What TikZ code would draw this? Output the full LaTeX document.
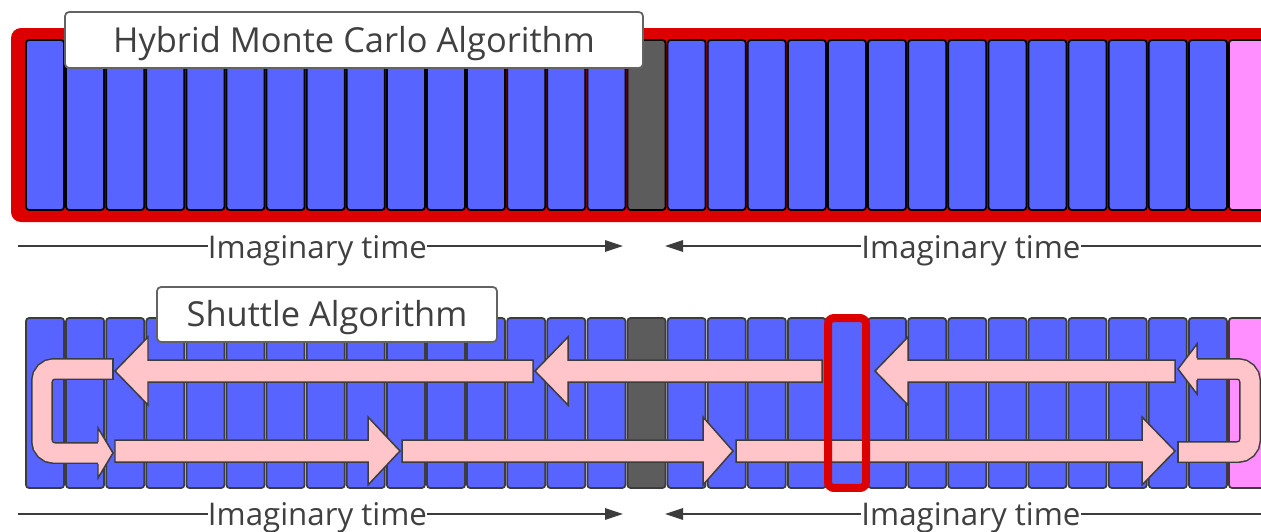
\documentclass[tikz,border=0pt]{standalone}
\usepackage{fontspec}
\setmainfont{Open Sans}
\usepackage{xcolor}
\usepackage{tikz}
\usetikzlibrary{arrows.meta}

\definecolor{sliceblue}{HTML}{5864FF}
\definecolor{slicegrey}{HTML}{5C5C5C}
\definecolor{slicepink}{HTML}{FF8FFF}
\definecolor{framered}{HTML}{DD0000}
\definecolor{arrowpink}{HTML}{FFC5C8}
\definecolor{edgegrey}{HTML}{3C3C3C}
\definecolor{textgrey}{HTML}{404040}

% tail, head base, tip, y
\newcommand{\shuttlearrow}[4]{%
  \draw[sarrow] (#1,#4-11) -- (#2,#4-11) -- (#2,#4-34) -- (#3,#4) -- (#2,#4+34) -- (#2,#4+11) -- (#1,#4+11) -- cycle;}

\begin{document}
\begin{tikzpicture}[x=0.02cm,y=-0.02cm,
    slice/.style={line width=1pt,rounded corners=0.06cm,minimum width=0.76cm,minimum height=3.4cm,inner sep=0pt,outer sep=0pt},
    sarrow/.style={fill=arrowpink,draw=edgegrey,line width=0.85pt,line join=miter},
    uturn/.style={draw=edgegrey,line width=0.85pt,double=arrowpink,double distance=0.38cm,rounded corners=0.24cm},
    namebox/.style={draw=edgegrey!80,line width=1pt,fill=white,rounded corners=0.08cm,text=textgrey,font=\fontsize{19.6}{22}\selectfont,text height=14pt,text depth=0pt,inner sep=0pt},
    timelabel/.style={text=textgrey,font=\fontsize{17.8}{20}\selectfont,inner sep=0pt,anchor=base},
    axisline/.style={draw=edgegrey,line width=0.9pt},
    axisarrow/.style={axisline,-{Triangle[length=0.36cm,width=0.23cm]}}]
    \useasboundingbox (0,0) rectangle (1261,531);
    \clip (0,0) rectangle (1261,531);

    % Hybrid Monte Carlo row
    \fill[framered,rounded corners=0.2cm] (11,28) rectangle (1320,222);
    \foreach \i in {0,...,30} {
        \pgfmathsetmacro{\xc}{45+40.1*\i}
        \ifnum\i=15 \def\col{slicegrey}\else\ifnum\i=30 \def\col{slicepink}\else\def\col{sliceblue}\fi\fi
        \node[slice,draw=black,fill=\col] (t\i) at (\xc,125) {};
    }
    \node[namebox,minimum width=11.56cm,minimum height=1.12cm] (hmc) at (354,40) {Hybrid Monte Carlo Algorithm};

    % Shuttle row
    \foreach \i in {0,...,30} {
        \pgfmathsetmacro{\xc}{45+40.1*\i}
        \ifnum\i=15 \def\col{slicegrey}\else\ifnum\i=30 \def\col{slicepink}\else\def\col{sliceblue}\fi\fi
        \node[slice,draw=edgegrey,fill=\col] (b\i) at (\xc,403) {};
    }
    \shuttlearrow{822}{568}{535}{371}
    \shuttlearrow{533}{148}{115}{371}
    \shuttlearrow{1175}{908}{875}{371}
    \shuttlearrow{115}{368}{400}{451}
    \shuttlearrow{402}{703}{733}{451}
    \shuttlearrow{736}{1142}{1175}{451}
    % left turn
    \draw[uturn] (113,369) -- (42,369) -- (42,453) -- (100,453);
    \fill[arrowpink] (98,428) -- (113,453) -- (98,478) -- cycle;
    \draw[edgegrey,line width=0.85pt] (98,442) -- (98,428) -- (113,453) -- (98,478) -- (98,464);
    \draw[edgegrey,line width=0.85pt] (113,358) -- (113,380);
    % right turn
    \draw[uturn] (1195,369) -- (1250,369) -- (1250,452) -- (1178,452);
    \fill[arrowpink] (1197,344) -- (1178,369) -- (1197,394) -- cycle;
    \draw[edgegrey,line width=0.85pt] (1197,358) -- (1197,344) -- (1178,369) -- (1197,394) -- (1197,380);
    \draw[edgegrey,line width=0.85pt] (1178,441) -- (1178,463);
    \draw[framered,line width=0.16cm,rounded corners=0.12cm] (b20.north west) rectangle (b20.south east);
    \node[namebox,minimum width=6.8cm,minimum height=1.1cm] (shuttle) at (327,314.5) {Shuttle Algorithm};

    % imaginary time axes
    \coordinate (a1l) at (18,246);
    \coordinate (a1r) at (623,246);
    \coordinate (a2l) at (665,246);
    \coordinate (a2r) at (1270,246);
    \node[timelabel] (tl1) at (317.5,258) {Imaginary time};
    \node[timelabel] (tr1) at (971,258) {Imaginary time};
    \draw[axisline] (a1l) -- (tl1.west |- a1l);
    \draw[axisarrow] (tl1.east |- a1l) -- (a1r);
    \draw[axisarrow] (tr1.west |- a2l) -- (a2l);
    \draw[axisline] (tr1.east |- a2l) -- (a2r);

    \coordinate (b1l) at (18,514);
    \coordinate (b1r) at (623,514);
    \coordinate (b2l) at (665,514);
    \coordinate (b2r) at (1270,514);
    \node[timelabel] (tl2) at (317.5,525) {Imaginary time};
    \node[timelabel] (tr2) at (971,525) {Imaginary time};
    \draw[axisline] (b1l) -- (tl2.west |- b1l);
    \draw[axisarrow] (tl2.east |- b1l) -- (b1r);
    \draw[axisarrow] (tr2.west |- b2l) -- (b2l);
    \draw[axisline] (tr2.east |- b2l) -- (b2r);
\end{tikzpicture}
\end{document}
